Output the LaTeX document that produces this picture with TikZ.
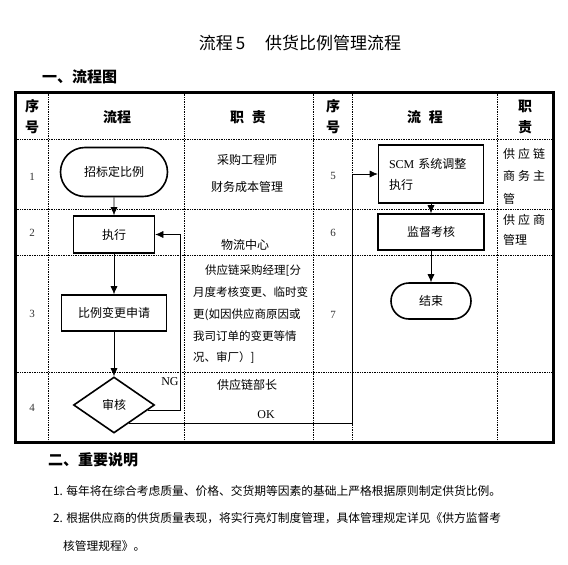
\documentclass[tikz,border=0pt]{standalone}
\usepackage{fontspec}
\setmainfont{Noto Sans CJK SC}
\newfontfamily\tnr{Liberation Serif}
\usetikzlibrary{arrows,arrows.meta,shapes,calc}
\tikzset{>={Latex[length=8pt,width=7pt]},
ln/.style={->,line width=0.6pt},
grid/.style={dash pattern=on 0.7pt off 1pt,line width=0.6pt},
frame/.style={line width=3pt},
pr/.style={rectangle,draw,line width=1.6pt,inner sep=0,font=\fontsize{12}{21}\selectfont},
tm/.style={rounded rectangle,draw,line width=1.6pt,inner sep=0,font=\fontsize{12}{14}\selectfont},
dc/.style={diamond,draw,line width=1.6pt,inner sep=0,font=\fontsize{12}{14}\selectfont},
hd/.style={align=center,inner sep=0,font=\bfseries\fontsize{14}{21}\selectfont},
tx/.style={inner sep=0,font=\fontsize{12}{14}\selectfont},
nm/.style={inner sep=0,text=black!80,font=\tnr\fontsize{11}{13}\selectfont},
el/.style={inner sep=0,font=\tnr\fontsize{12}{14}\selectfont},
sec/.style={inner sep=0,anchor=west,font=\bfseries\fontsize{15}{18}\selectfont},
bd/.style={inner sep=0,anchor=west,font=\fontsize{11.75}{14}\selectfont},
}
\begin{document}
\begin{tikzpicture}[x=1pt,y=-1pt]
\useasboundingbox (0,0) rectangle (568,565);

% titles
\node[font=\fontsize{17}{20}\selectfont] (ttl) at (300,43) {流程\hspace{3pt}5\hspace{20pt}供货比例管理流程};
\node[sec] (sec1) at (42,77) {一、流程图};

% table
\draw[grid] (48,92) -- (48,442) (184,92) -- (184,442) (313,92) -- (313,442)
  (352,92) -- (352,442) (497,92) -- (497,442)
  (15,139) -- (553,139) (15,209) -- (553,209) (15,255) -- (553,255) (15,372) -- (553,372);
\draw[frame] (15,92) rectangle (553,442);

\node[hd] (hnoa) at (32,117) {序\\号};
\node[hd] (hflowa) at (117,117) {流程};
\node[hd] (hduta) at (248,117) {职\hspace{8pt}责};
\node[hd] (hnob) at (333,117) {序\\号};
\node[hd] (hflowb) at (425,117) {流\hspace{8pt}程};
\node[hd] (hdutb) at (525,117) {职\\责};

\node[nm] (n1) at (32,177) {1};
\node[nm] (n2) at (32,233) {2};
\node[nm] (n3) at (32,314) {3};
\node[nm] (n4) at (32,408) {4};
\node[nm] (n5) at (333,176) {5};
\node[nm] (n6) at (333,233) {6};
\node[nm] (n7) at (333,315) {7};

% flow, left
\node[tm,minimum width=107,minimum height=49] (zbd) at (114,172) {招标定比例};
\node[pr,minimum width=81,minimum height=37] (zx) at (114,234.5) {执行};
\node[pr,minimum width=105,minimum height=36] (blbg) at (114,313) {比例变更申请};
\node[dc,minimum width=81,minimum height=56] (sh) at (114,405) {审核};
\coordinate (ngc) at (180,0);
\coordinate (okc) at (352,0);

% flow, right
\node[pr,minimum width=105,minimum height=58,text width=84,align=left] (scm) at (431,174) {{\tnr SCM} 系统调整\\执行};
\node[pr,minimum width=106,minimum height=36] (jdkh) at (431,232) {监督考核};
\node[tm,minimum width=80,minimum height=36] (js) at (431,301) {结束};

\draw[ln] (zbd) -- (zx);
\draw[ln] (zx) -- (blbg);
\draw[ln] (blbg) -- (sh);
\draw[ln] (sh.-9) -| (ngc |- zx.east) -- (zx.east);
\draw[ln] (sh.-51) -| (okc |- scm.west) -- (scm.west);
\draw[ln] (scm) -- (jdkh);
\draw[ln] (jdkh) -- (js);
\node[el] (ng) at (170,382) {NG};
\node[el] (ok) at (266,415) {OK};

% duties
\node[tx] (da1) at (247,160) {采购工程师};
\node[tx] (da2) at (247,187) {财务成本管理};
\node[tx] (db) at (245,245) {物流中心};
\node[tx,align=left,anchor=north west,font=\fontsize{11.5}{21.7}\selectfont] (dc) at (193,265)
  {\hspace{12pt}供应链采购经理[分\\月度考核变更、临时变\\更(如因供应商原因或\\我司订单的变更等情\\况、审厂）]};
\node[tx] (dd) at (247,385) {供应链部长};
\node[tx,align=left,anchor=west,font=\fontsize{12}{22.5}\selectfont] (de) at (503,176)
  {供\hspace{3pt}应\hspace{3pt}链\\商\hspace{3pt}务\hspace{3pt}主\\管};
\node[tx,align=left,anchor=west,font=\fontsize{12}{20}\selectfont] (df) at (503,230)
  {供\hspace{3pt}应\hspace{3pt}商\\管理};

% notes
\node[sec] (sec2) at (48,460) {二、重要说明};
\node[bd] (nt1) at (53,491) {1. 每年将在综合考虑质量、价格、交货期等因素的基础上严格根据原则制定供货比例。};
\node[bd] (nt2) at (53,518) {2. 根据供应商的供货质量表现，将实行亮灯制度管理，具体管理规定详见《供方监督考};
\node[bd] (nt3) at (63,546) {核管理规程》。};
\end{tikzpicture}
\end{document}
